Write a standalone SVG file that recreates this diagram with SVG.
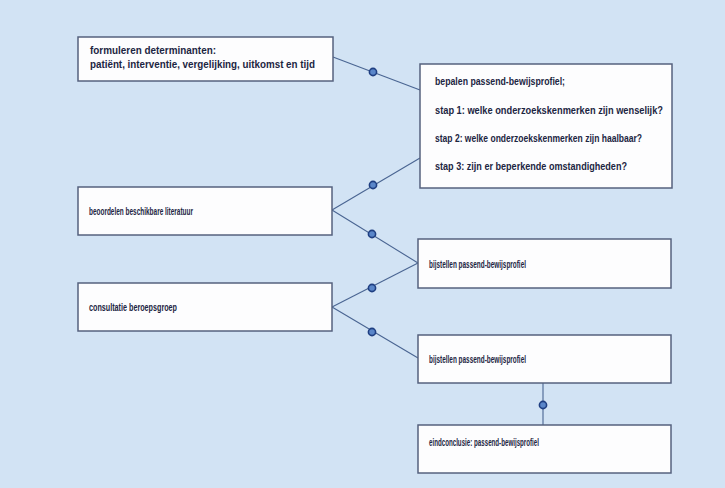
<svg xmlns="http://www.w3.org/2000/svg" width="725" height="488" viewBox="0 0 725 488">
<style>
.bg{fill:#d2e3f4}
.box{fill:#fdfdfe;stroke:#56627e;stroke-width:1.5}
.t{font-family:"Liberation Sans",Arial,sans-serif;font-weight:bold;font-size:10px;fill:#1c2542}
.s{font-size:10px}
.ln{stroke:#4a6592;stroke-width:1.1;fill:none}
.dot{fill:#5a86c9;stroke:#1f3f82;stroke-width:1.6}
</style>
<rect class="bg" x="0" y="0" width="725" height="488"/>
<g id="connectors">
<line class="ln" x1="333" y1="57" x2="420" y2="90"/>
<line class="ln" x1="332" y1="210" x2="420" y2="158"/>
<line class="ln" x1="332" y1="210" x2="418" y2="263"/>
<line class="ln" x1="332" y1="307" x2="418" y2="263"/>
<line class="ln" x1="332" y1="307" x2="418" y2="358"/>
<line class="ln" x1="543" y1="383" x2="543" y2="425"/>
<circle class="dot" cx="373" cy="72" r="3.6"/>
<circle class="dot" cx="373" cy="185" r="3.6"/>
<circle class="dot" cx="372" cy="234" r="3.6"/>
<circle class="dot" cx="372" cy="288" r="3.6"/>
<circle class="dot" cx="372" cy="332" r="3.6"/>
<circle class="dot" cx="543" cy="405" r="3.6"/>
</g>
<g id="n1">
<rect class="box" x="78" y="37" width="255" height="44"/>
<text class="t" x="90" y="54" textLength="126" lengthAdjust="spacingAndGlyphs">formuleren determinanten:</text>
<text class="t" x="90" y="68" textLength="225" lengthAdjust="spacingAndGlyphs">patiënt, interventie, vergelijking, uitkomst en tijd</text>
</g>
<g id="n2">
<rect class="box" x="420" y="64" width="252" height="124"/>
<text class="t" x="435" y="85" textLength="130" lengthAdjust="spacingAndGlyphs">bepalen passend-bewijsprofiel;</text>
<text class="t" x="435" y="114" textLength="228" lengthAdjust="spacingAndGlyphs">stap 1: welke onderzoekskenmerken zijn wenselijk?</text>
<text class="t" x="435" y="142" textLength="207" lengthAdjust="spacingAndGlyphs">stap 2: welke onderzoekskenmerken zijn haalbaar?</text>
<text class="t" x="435" y="170" textLength="192" lengthAdjust="spacingAndGlyphs">stap 3: zijn er beperkende omstandigheden?</text>
</g>
<g id="n3">
<rect class="box" x="78" y="187" width="254" height="48"/>
<text class="t s" x="89" y="215" textLength="104" lengthAdjust="spacingAndGlyphs">beoordelen beschikbare literatuur</text>
</g>
<g id="n4">
<rect class="box" x="418" y="239" width="253" height="49"/>
<text class="t s" x="429" y="268" textLength="97" lengthAdjust="spacingAndGlyphs">bijstellen passend-bewijsprofiel</text>
</g>
<g id="n5">
<rect class="box" x="78" y="283" width="254" height="48"/>
<text class="t s" x="89" y="311" textLength="88" lengthAdjust="spacingAndGlyphs">consultatie beroepsgroep</text>
</g>
<g id="n6">
<rect class="box" x="418" y="335" width="253" height="48"/>
<text class="t s" x="429" y="363" textLength="97" lengthAdjust="spacingAndGlyphs">bijstellen passend-bewijsprofiel</text>
</g>
<g id="n7">
<rect class="box" x="418" y="425" width="253" height="48"/>
<text class="t s" x="429" y="446" textLength="110" lengthAdjust="spacingAndGlyphs">eindconclusie: passend-bewijsprofiel</text>
</g>
</svg>
